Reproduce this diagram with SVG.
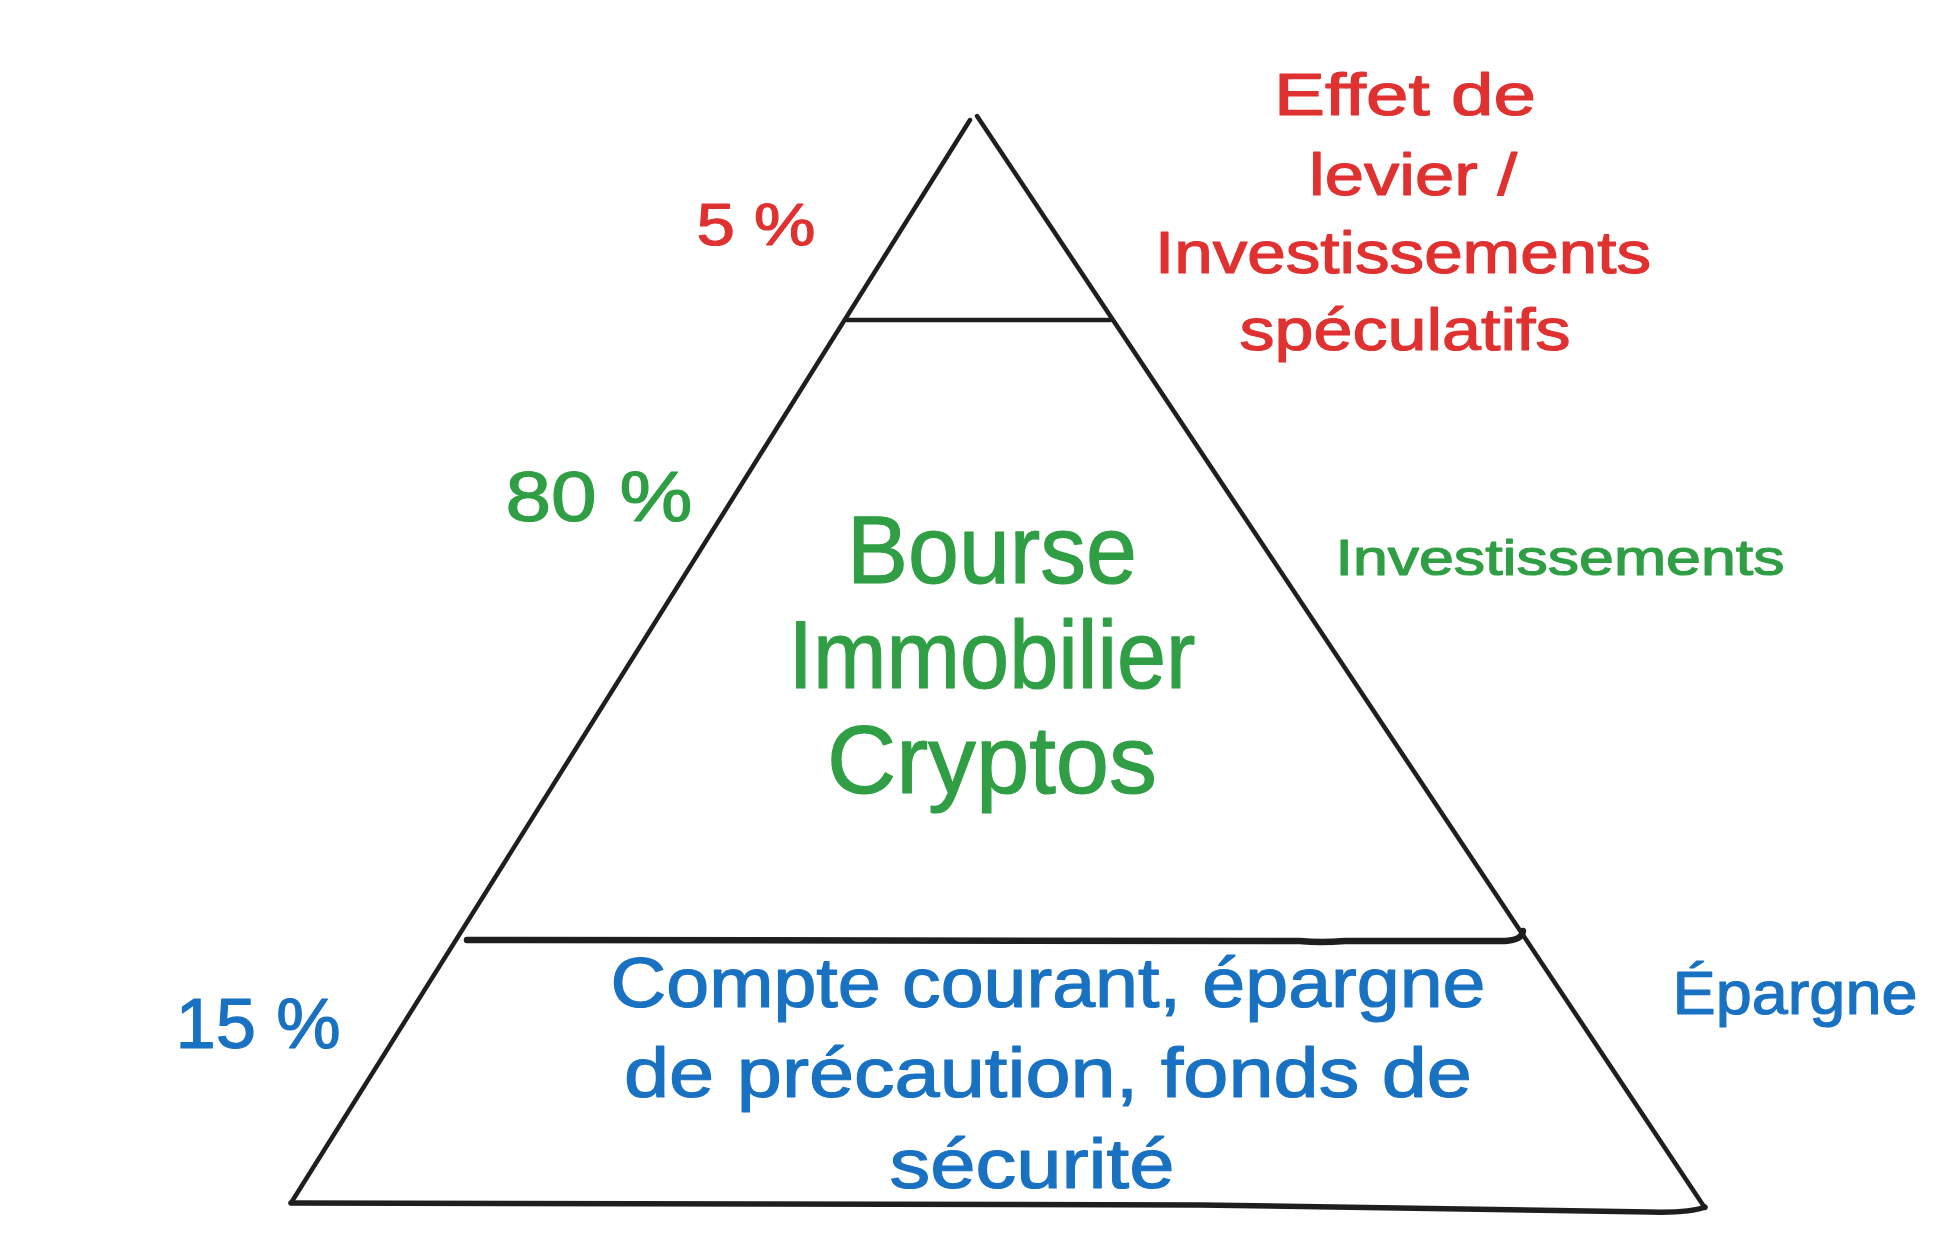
<svg xmlns="http://www.w3.org/2000/svg" width="1944" height="1236" viewBox="0 0 1944 1236">
<style>
text{font-family:"Liberation Sans","DejaVu Sans",sans-serif;text-anchor:middle;stroke-width:1.2;stroke-linejoin:round}
.r{fill:#e03131;stroke:#e03131;font-size:60px}
.g{fill:#2f9e44;stroke:#2f9e44}
.b{fill:#1971c2;stroke:#1971c2;font-size:70px}
.ln{fill:none;stroke:#1e1e1e;stroke-width:4.5;stroke-linecap:round;stroke-linejoin:round}
</style>
<rect width="1944" height="1236" fill="#ffffff"/>
<g id="connectors">
<path class="ln" d="M970 120 L291 1203"/>
<path class="ln" d="M977 116 L1705 1208"/>
<path class="ln" d="M847 320 L1110 320"/>
<path class="ln" style="stroke-width:6.5" d="M467 940 L1300 941 Q1320 943 1345 941 L1505 941 Q1522 940 1523 931"/>
<path class="ln" style="stroke-width:5.5" d="M291 1203 L1200 1205 Q1560 1210 1650 1212 Q1690 1213 1705 1207"/>
</g>
<g id="top-label"><text class="r" x="756" y="245" textLength="119" lengthAdjust="spacingAndGlyphs">5 %</text></g>
<g id="top-desc">
<text class="r" x="1405" y="115" textLength="262" lengthAdjust="spacingAndGlyphs">Effet de</text>
<text class="r" x="1413" y="195" textLength="208" lengthAdjust="spacingAndGlyphs">levier /</text>
<text class="r" x="1403" y="273" textLength="496" lengthAdjust="spacingAndGlyphs">Investissements</text>
<text class="r" x="1405" y="350" textLength="331" lengthAdjust="spacingAndGlyphs">spéculatifs</text>
</g>
<g id="mid-label"><text class="g" style="font-size:70px" x="599" y="521" textLength="187" lengthAdjust="spacingAndGlyphs">80 %</text></g>
<g id="mid-content">
<text class="g" style="font-size:96px" x="992" y="583" textLength="290" lengthAdjust="spacingAndGlyphs">Bourse</text>
<text class="g" style="font-size:96px" x="992" y="688" textLength="407" lengthAdjust="spacingAndGlyphs">Immobilier</text>
<text class="g" style="font-size:96px" x="992" y="793" textLength="330" lengthAdjust="spacingAndGlyphs">Cryptos</text>
</g>
<g id="mid-desc"><text class="g" style="font-size:50px" x="1560" y="575" textLength="449" lengthAdjust="spacingAndGlyphs">Investissements</text></g>
<g id="bottom-label"><text class="b" x="258" y="1048" textLength="165" lengthAdjust="spacingAndGlyphs">15 %</text></g>
<g id="bottom-content">
<text class="b" x="1048" y="1007" textLength="875" lengthAdjust="spacingAndGlyphs">Compte courant, épargne</text>
<text class="b" x="1048" y="1097" textLength="848" lengthAdjust="spacingAndGlyphs">de précaution, fonds de</text>
<text class="b" x="1032" y="1188" textLength="285" lengthAdjust="spacingAndGlyphs">sécurité</text>
</g>
<g id="bottom-desc"><text class="b" style="font-size:62px" x="1795" y="1014" textLength="245" lengthAdjust="spacingAndGlyphs">Épargne</text></g>
</svg>
